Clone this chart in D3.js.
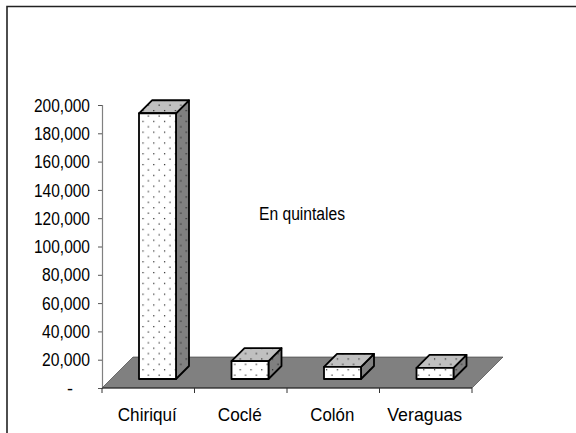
<!DOCTYPE html>
<html><head><meta charset="utf-8">
<script src="https://cdn.jsdelivr.net/npm/d3@7"></script>
<style>html,body{margin:0;padding:0;background:#fff}svg{display:block}text{font-family:"Liberation Sans",Arial,sans-serif;fill:#000}</style>
</head><body><svg id="c" width="576" height="433"></svg>
<script>
const categories = ["Chiriquí","Coclé","Colón","Veraguas"];
const values = [187800,12700,8500,7800];
const yTicks = [0,20000,40000,60000,80000,100000,120000,140000,160000,180000,200000];
const note = "En quintales";

const svg = d3.select("#c");
const defs = svg.append("defs");
function pat(id,bg){
  const p = defs.append("pattern").attr("id",id).attr("patternUnits","userSpaceOnUse")
    .attr("width",10.8).attr("height",10.8);
  p.append("rect").attr("width",10.8).attr("height",10.8).attr("fill",bg);
  p.append("rect").attr("x",2).attr("y",2).attr("width",1.2).attr("height",1.2).attr("fill","#222");
  p.append("rect").attr("x",7.4).attr("y",7.4).attr("width",1.2).attr("height",1.2).attr("fill","#222");
}
pat("pf","#fff"); pat("pt","#c0c0c0"); pat("ps","#808080");

const x = d3.scaleBand().domain(categories).range([102,472]);
const y = d3.scaleLinear().domain([0,200000]).range([388,105]);
const floorD = 31, barD = 13, inset = 9;
const baseY = y(0) - inset;
const barH = v => y(0) - y(v);

svg.append("path").attr("d","M7,433V6.5H576").attr("fill","none").attr("stroke","#222").attr("stroke-width",1.6);

// floor
svg.append("path").attr("d",`M${x.range()[0]},${y(0)}L${x.range()[0]+floorD},${y(0)-floorD}H${x.range()[1]+floorD}L${x.range()[1]},${y(0)}Z`)
  .attr("fill","#808080").attr("stroke","#333").attr("stroke-width",0.6);

// axes
const yAxis = d3.axisLeft(y).tickValues(yTicks).tickSize(4).tickFormat(d=>d===0?"-":d3.format(",")(d));
const gy = svg.append("g").attr("transform","translate(102,0)").call(yAxis);
gy.select(".domain").attr("stroke","#808080").attr("stroke-width",1.2);
gy.selectAll(".tick line").attr("stroke","#555");
gy.selectAll("text").attr("font-size",18).attr("textLength",d=>d===0?null:(d<100000?48:56)).attr("lengthAdjust","spacingAndGlyphs").attr("x",d=>d===0?-29:-12).attr("dy","0.34em");

svg.append("line").attr("x1",102).attr("x2",472).attr("y1",y(0)).attr("y2",y(0)).attr("stroke","#222").attr("stroke-width",1.2);
const xTicks = svg.append("g");
xTicks.selectAll("line").data(d3.range(5)).join("line")
  .attr("x1",i=>102+i*x.step()).attr("x2",i=>102+i*x.step()).attr("y1",y(0)).attr("y2",y(0)+5).attr("stroke","#333");
const labelW = {"Chiriquí":59,"Coclé":44,"Colón":44,"Veraguas":75};
svg.append("g").selectAll("text").data(categories).join("text")
  .attr("x",d=>x(d)+x.bandwidth()/2 - 1).attr("y",421).attr("text-anchor","middle").attr("font-size",19)
  .attr("textLength",d=>labelW[d]).attr("lengthAdjust","spacingAndGlyphs").text(d=>d);

// bars
const bw = 37, barOff = 37;
const g = svg.append("g").selectAll("g").data(categories.map((c,i)=>({c,v:values[i]}))).join("g");
const st = s => s.attr("stroke","#000").attr("stroke-width",1.8).attr("stroke-linejoin","round");
g.append("path").call(st).attr("fill","url(#ps)").attr("d",d=>{
  const l=x(d.c)+barOff, r=l+bw, t=baseY-barH(d.v);
  return `M${r},${baseY}V${t}l${barD},${-barD}V${baseY-barD}Z`;});
g.append("path").call(st).attr("fill","url(#pt)").attr("d",d=>{
  const l=x(d.c)+barOff, t=baseY-barH(d.v);
  return `M${l},${t}l${barD},${-barD}h${bw}l${-barD},${barD}Z`;});
g.append("rect").call(st).attr("fill","url(#pf)")
  .attr("x",d=>x(d.c)+barOff).attr("width",bw)
  .attr("y",d=>baseY-barH(d.v)).attr("height",d=>barH(d.v));

svg.append("text").attr("x",259).attr("y",220).attr("font-size",18).attr("textLength",86).attr("lengthAdjust","spacingAndGlyphs").text(note);
</script></body></html>
